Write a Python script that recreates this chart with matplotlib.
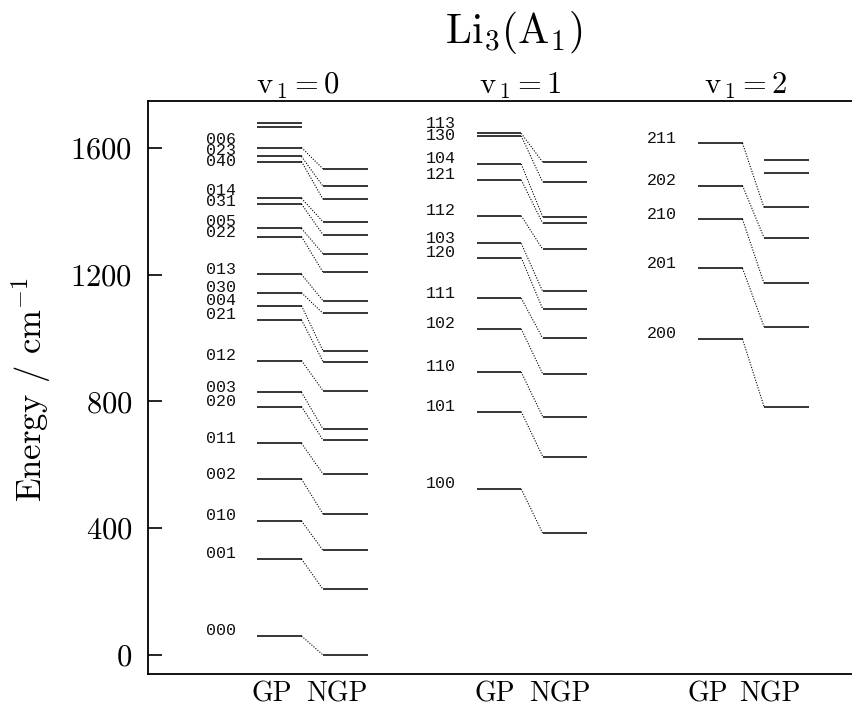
import matplotlib
matplotlib.use('Agg')
import matplotlib.pyplot as plt
from matplotlib.transforms import blended_transform_factory

plt.rcParams['font.family'] = ['cmr10', 'DejaVu Serif']
plt.rcParams['mathtext.fontset'] = 'cm'
plt.rcParams['axes.formatter.use_mathtext'] = True

# ---------------- data ----------------
title = r'$\mathrm{Li}_3(\mathrm{A}_1)$'
col_titles = [r'$\mathrm{v}_{\,1}=0$', r'$\mathrm{v}_{\,1}=1$', r'$\mathrm{v}_{\,1}=2$']
ylabel = r'Energy / cm$^{-1}$'
yticks = [0, 400, 800, 1200, 1600]

gp0_labels = ['006', '023', '040', '014', '031', '005', '022', '013', '030', '004',
              '021', '012', '003', '020', '011', '002', '010', '001', '000']
gp0 = [1601, 1573, 1557, 1441, 1423, 1346, 1320, 1201, 1143, 1102,
       1057, 929, 829, 784, 668, 555, 423, 303, 60]
ngp0 = [1534, 1479, 1438, 1367, 1326, 1266, 1208, 1118, 1078, 960,
        926, 834, 713, 678, 571, 445, 330, 207, 0]
gp0_extra = [1680, 1665]
ngp0_extra = []

gp1_labels = ['113', '130', '104', '121', '112', '103', '120', '111', '102', '110', '101', '100']
gp1 = [1646, 1638, 1549, 1499, 1386, 1299, 1254, 1126, 1029, 893, 768, 524]
ngp1 = [1555, 1492, 1383, 1362, 1280, 1147, 1092, 999, 887, 752, 626, 384]
gp1_extra = []
ngp1_extra = []

gp2_labels = ['211', '202', '210', '201', '200']
gp2 = [1615, 1481, 1375, 1220, 997]
ngp2 = [1412, 1317, 1173, 1036, 784]
gp2_extra = []
ngp2_extra = [1562, 1520]

columns = [
    (gp0_labels, gp0, ngp0, gp0_extra, ngp0_extra),
    (gp1_labels, gp1, ngp1, gp1_extra, ngp1_extra),
    (gp2_labels, gp2, ngp2, gp2_extra, ngp2_extra),
]

# ---------------- layout ----------------
W, H = 852, 709
fig = plt.figure(figsize=(W / 100, H / 100), dpi=100)
ax_left, ax_top, ax_bot = 147.5, 101, 674
ax = fig.add_axes([ax_left / W, 1 - ax_bot / H, 1 - ax_left / W, (ax_bot - ax_top) / H])
ax.set_xlim(0, W - ax_left)
ax.set_ylim(-60, 1748)

col_base = [109.5, 329.2, 550.5]
gp_w = 44.5
ngp_start, ngp_end = 66.0, 110.5
label_gap = 21.0


def spread(values, offset, gap):
    """Return label positions (same order) pushed apart by at least `gap`."""
    order = sorted(range(len(values)), key=lambda i: -values[i])
    desired = [values[i] + offset for i in order]
    groups = [[k] for k in range(len(desired))]
    changed = True
    while changed:
        changed = False
        new_groups = []
        i = 0
        while i < len(groups):
            g = list(groups[i])
            while i + 1 < len(groups):
                mc = sum(desired[k] for k in g) / len(g)
                low = mc - (len(g) - 1) * gap / 2
                g2 = groups[i + 1]
                mc2 = sum(desired[k] for k in g2) / len(g2)
                high2 = mc2 + (len(g2) - 1) * gap / 2
                if low - high2 < gap:
                    g = g + list(g2)
                    i += 1
                    changed = True
                else:
                    break
            new_groups.append(g)
            i += 1
        groups = new_groups
    out = [0.0] * len(values)
    for g in groups:
        mc = sum(desired[k] for k in g) / len(g)
        n = len(g)
        for j, k in enumerate(g):
            out[order[k]] = mc + ((n - 1) / 2 - j) * gap
    return out


for ci, (labs, gp, ngp, gpx, ngpx) in enumerate(columns):
    b = col_base[ci]
    ax.hlines(gp + gpx, b, b + gp_w, color='black', lw=1.1)
    ax.hlines(ngp + ngpx, b + ngp_start, b + ngp_end, color='black', lw=1.1)
    for g, n in zip(gp, ngp):
        ax.plot([b + gp_w, b + ngp_start], [g, n], color='black', lw=0.8,
                ls=(0, (1, 1.4)))
    ypos = spread(gp, 16, 35)
    for lab, y in zip(labs, ypos):
        ax.text(b - label_gap, y, lab, ha='right', va='center', fontsize=12,
                family=['Liberation Mono', 'DejaVu Sans Mono'], color='#111111')

# axes styling
ax.spines['right'].set_visible(False)
for s in ('left', 'top', 'bottom'):
    ax.spines[s].set_linewidth(1.3)
ax.set_yticks(yticks)
ax.tick_params(axis='y', direction='in', length=10, width=1.2, pad=11, labelsize=22)

xt_pos = [124.5, 189.5, 347.5, 412.5, 560.5, 622.5]
xt_lab = ['GP', 'NGP', 'GP', 'NGP', 'GP', 'NGP']
ax.set_xticks(xt_pos)
ax.set_xticklabels(xt_lab)
ax.tick_params(axis='x', length=0, pad=5, labelsize=20)

# column titles
trans = blended_transform_factory(ax.transData, fig.transFigure)
col_title_x = [150.5, 372.5, 598.5]
for x, t in zip(col_title_x, col_titles):
    ax.text(x, 1 - 86 / H, t, transform=trans, ha='center', va='center', fontsize=22)

fig.text(514 / W, 1 - 33 / H, title, ha='center', va='center', fontsize=30)
fig.text(31 / W, 1 - 390 / H, ylabel, rotation=90, ha='center', va='center', fontsize=25)

fig.savefig('out.png', dpi=100)
